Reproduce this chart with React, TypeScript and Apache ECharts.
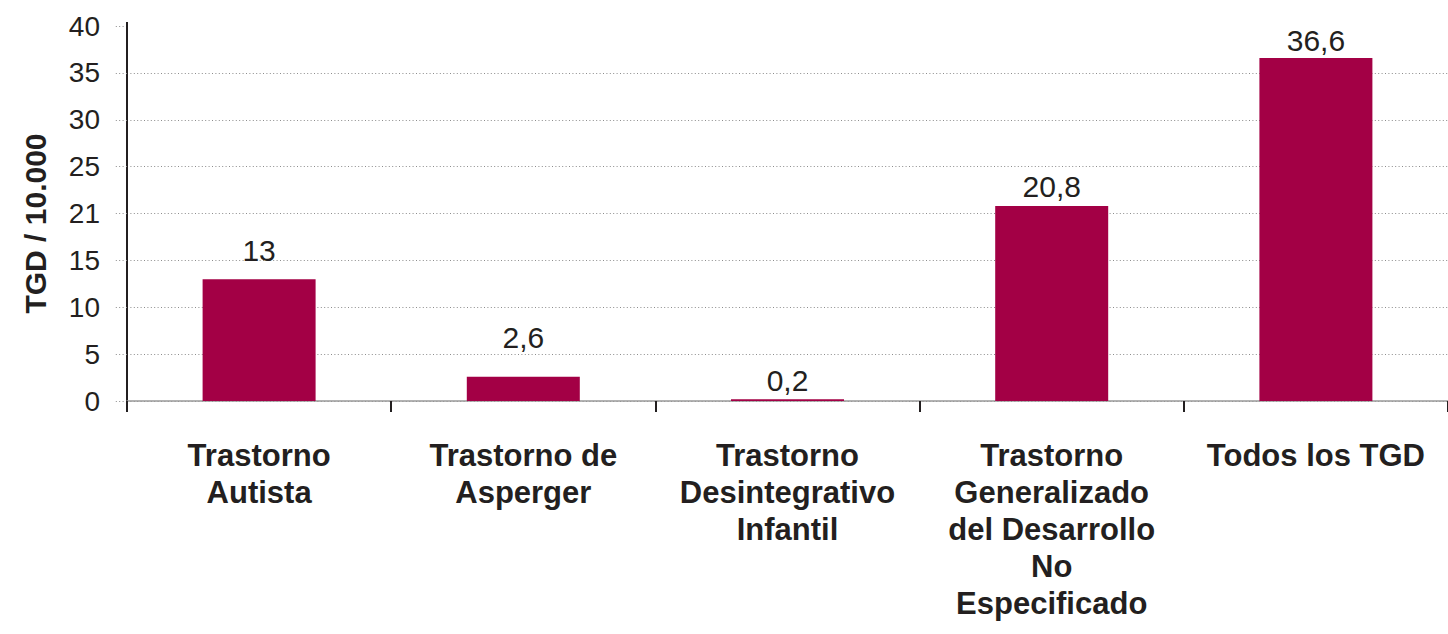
import React, { useEffect, useRef } from "react";
import * as echarts from "echarts";

const categories = [
  "Trastorno\nAutista",
  "Trastorno de\nAsperger",
  "Trastorno\nDesintegrativo\nInfantil",
  "Trastorno\nGeneralizado\ndel Desarrollo\nNo\nEspecificado",
  "Todos los TGD",
];
const values = [13, 2.6, 0.2, 20.8, 36.6];
const yTickLabels = ["0", "5", "10", "15", "21", "25", "30", "35", "40"];
const yAxisTitle = "TGD / 10.000";
const labelGaps = [14, 24, 4, 5, 2];

const BAR = "#A30045";
const TXT = "#231F20";
const GRID = "#8c8c8c";
const FONT = "'Liberation Sans', Arial, sans-serif";

export default function App() {
  const ref = useRef<HTMLDivElement>(null);
  useEffect(() => {
    if (!ref.current) return;
    const chart = echarts.init(ref.current, null, { renderer: "svg" });
    const gridColors = yTickLabels.map((_, i) =>
      i === yTickLabels.length - 1 ? "transparent" : GRID
    );
    chart.setOption({
      animation: false,
      backgroundColor: "#ffffff",
      textStyle: { fontFamily: FONT },
      grid: { left: 127, right: 0, top: 26, bottom: 233, containLabel: false },
      graphic: [
        {
          type: "line",
          shape: { x1: 127, y1: 22, x2: 127, y2: 27 },
          style: { stroke: TXT, lineWidth: 2 },
          z: 10,
        },
      ],
      xAxis: {
        type: "category",
        data: categories,
        axisLine: { show: true, lineStyle: { color: "#999999", width: 1.5 } },
        axisTick: { show: true, length: 11, lineStyle: { color: TXT, width: 2 } },
        axisLabel: {
          interval: 0,
          margin: 36,
          fontSize: 31,
          fontWeight: "bold",
          color: TXT,
          lineHeight: 37,
          fontFamily: FONT,
          align: "center",
        },
      },
      yAxis: {
        type: "value",
        min: 0,
        max: 40,
        interval: 5,
        name: yAxisTitle,
        nameLocation: "middle",
        nameRotate: 90,
        nameGap: 77,
        nameTextStyle: {
          fontSize: 30,
          fontWeight: "bold",
          color: TXT,
          fontFamily: FONT,
          padding: [0, 20, 0, 0],
        },
        axisLine: { show: true, lineStyle: { color: TXT, width: 2 } },
        axisTick: { show: true, length: 13, lineStyle: { color: GRID, type: [1, 2.4], width: 1 } },
        axisLabel: {
          margin: 27,
          fontSize: 28,
          color: TXT,
          fontFamily: FONT,
          formatter: (v: number) => yTickLabels[Math.round(v / 5)] ?? String(v),
        },
        splitLine: { show: true, lineStyle: { color: gridColors, type: [1, 2.4], width: 1 } },
      },
      series: [
        {
          type: "bar",
          barWidth: 113,
          data: values.map((v, i) => ({
            value: v,
            label: { distance: labelGaps[i] },
          })),
          itemStyle: { color: BAR },
          label: {
            show: true,
            position: "top",
            fontSize: 30,
            color: TXT,
            fontFamily: FONT,
            formatter: (p: any) => String(p.value).replace(".", ","),
          },
        },
      ],
    });
    return () => chart.dispose();
  }, []);
  return (
    <div
      ref={ref}
      style={{ position: "fixed", left: 0, top: 0, width: 1448, height: 634 }}
    />
  );
}
